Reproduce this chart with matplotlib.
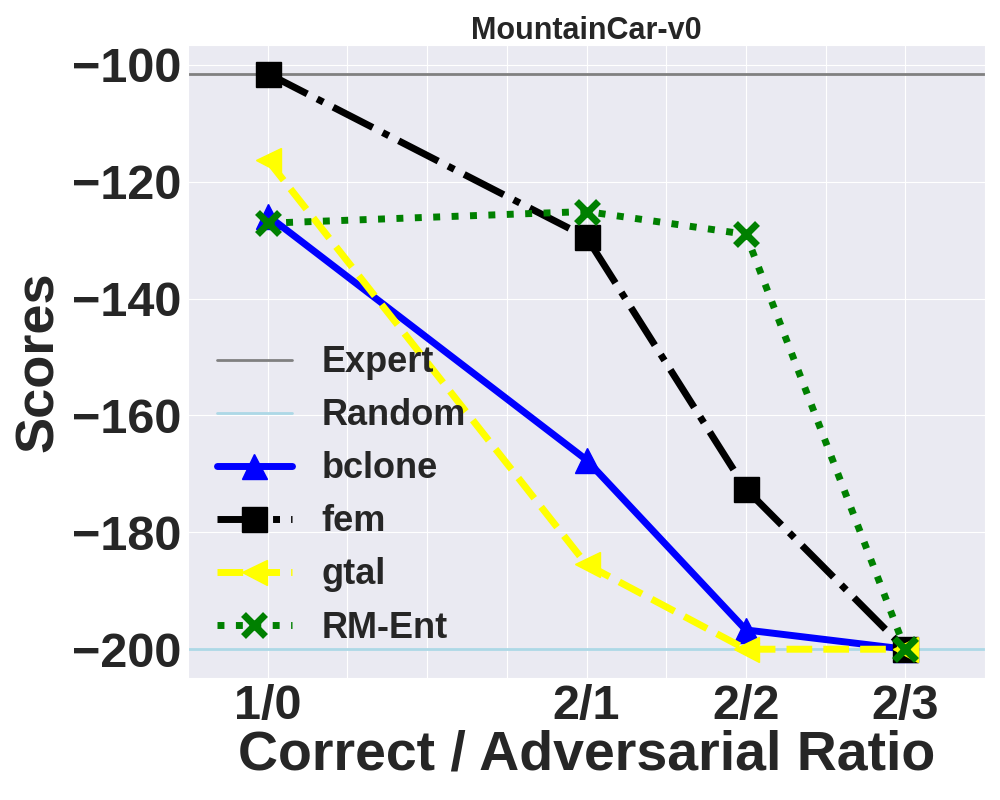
import matplotlib
matplotlib.use("Agg")
import matplotlib.pyplot as plt
import seaborn as sns

# dati
rapporti = ["1/0", "2/1", "2/2", "2/3"]
posizioni_x = [0, 4, 6, 8]
esperto = -101.5
casuale = -200.0
bclone = [-125.8, -167.6, -196.7, -200.0]
fem = [-101.5, -129.5, -172.6, -200.0]
gtal = [-116.3, -185.5, -200.0, -200.0]
rm_ent = [-127.1, -125.1, -129.0, -200.0]

sns.set_style("darkgrid")
plt.rcParams["font.family"] = ["Liberation Sans", "DejaVu Sans"]
plt.rcParams["font.weight"] = "bold"

fig = plt.figure(figsize=(10, 8), dpi=100)
ax = fig.add_axes([0.188, 0.1525, 0.797, 0.7915])

ax.axhline(esperto, color="gray", lw=2, label="Expert")
ax.axhline(casuale, color="lightblue", lw=2, label="Random")
ax.plot(posizioni_x, bclone, color="blue", ls="-", lw=5, marker="^", ms=18, label="bclone")
ax.plot(posizioni_x, fem, color="black", ls="-.", lw=5, marker="s", ms=18, label="fem")
ax.plot(posizioni_x, gtal, color="yellow", ls="--", lw=5, marker="<", ms=18, label="gtal")
ax.plot(posizioni_x, rm_ent, color="green", ls=":", lw=5, marker="x", ms=16, mew=5, label="RM-Ent")

ax.set_xlim(-1, 9)
ax.set_xticks(range(9))
etichette = [""] * 9
for p, r in zip(posizioni_x, rapporti):
    etichette[p] = r
ax.set_xticklabels(etichette)
ax.set_yticks([-100, -120, -140, -160, -180, -200])
ax.tick_params(labelsize=35, pad=1)
for t in ax.get_xticklabels() + ax.get_yticklabels():
    t.set_fontweight("bold")

ax.set_title("MountainCar-v0", fontsize=22, fontweight="bold", pad=4)
ax.set_xlabel("Correct / Adversarial Ratio", fontsize=40, fontweight="bold", labelpad=0)
ax.set_ylabel("Scores", fontsize=39, fontweight="bold", labelpad=6)

ax.legend(loc="lower left", bbox_to_anchor=(-0.005, 0.0), fontsize=26, frameon=False,
          handlelength=2.1, labelspacing=0.5)

fig.savefig("out.png", dpi=100)
